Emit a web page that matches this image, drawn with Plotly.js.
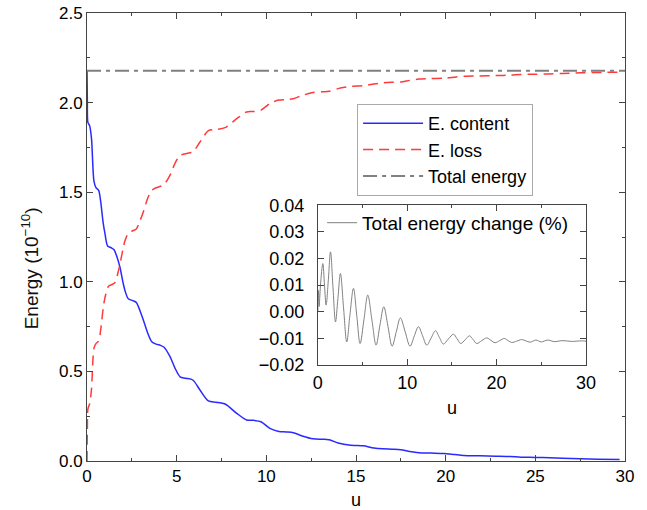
<!DOCTYPE html>
<html>
<head>
<meta charset="utf-8">
<script src="https://cdn.plot.ly/plotly-3.0.1.min.js"></script>
<style>html,body{margin:0;padding:0;background:#fff;}#chart{width:647px;height:510px;}</style>
</head>
<body>
<div id="chart"></div>
<script>
// Main panel: energy content (blue)
const contentU = [0,0.02,0.05,0.15,0.25,0.39,0.5,0.65,0.76,0.9,1.0,1.15,1.35,1.5,1.7,1.84,2.0,2.12,2.3,2.55,2.75,2.95,3.14,3.4,3.61,3.85,4.1,4.3,4.63,4.9,5.19,5.5,5.9,6.3,6.77,7.2,7.7,8.35,8.9,9.3,9.7,10.2,10.7,11.1,11.5,12.0,12.6,13.1,13.5,14.0,14.7,15.0,15.4,16.0,16.5,17.0,17.5,18.0,18.5,19.2,19.9,20.5,21.0,21.9,22.8,23.6,24.2,25.0,25.8,26.5,27.5,28.5,29.7];
const contentE = [2.18,2.0,1.89,1.87,1.80,1.56,1.525,1.51,1.45,1.33,1.27,1.20,1.19,1.18,1.13,1.08,1.0,0.95,0.905,0.895,0.885,0.84,0.787,0.71,0.666,0.652,0.645,0.635,0.582,0.52,0.47,0.462,0.452,0.396,0.335,0.328,0.318,0.266,0.229,0.227,0.219,0.182,0.165,0.162,0.158,0.14,0.124,0.121,0.119,0.10,0.088,0.087,0.085,0.073,0.068,0.066,0.063,0.053,0.046,0.044,0.042,0.036,0.031,0.029,0.027,0.025,0.021,0.020,0.018,0.015,0.012,0.010,0.008];

// Main panel: energy loss (red dashed)
const lossU = [0,0.02,0.05,0.15,0.25,0.39,0.5,0.65,0.76,0.9,1.0,1.2,1.4,1.55,1.7,1.84,2.0,2.12,2.3,2.55,2.75,2.95,3.14,3.4,3.61,3.85,4.1,4.3,4.63,4.9,5.19,5.5,5.9,6.3,6.77,7.2,7.7,8.35,8.9,9.3,9.7,10.2,10.7,11.1,11.5,12.0,12.6,13.1,13.5,14.0,14.7,15.0,15.4,16.0,16.5,17.0,17.5,18.0,18.5,19.2,19.9,20.5,21.0,21.9,22.8,23.6,24.2,25.0,25.8,26.5,27.5,28.5,29.7];
const lossE = [0,0.18,0.29,0.32,0.40,0.63,0.655,0.67,0.73,0.85,0.91,0.975,0.985,0.995,1.04,1.10,1.18,1.23,1.27,1.285,1.295,1.34,1.39,1.47,1.51,1.525,1.533,1.543,1.595,1.66,1.705,1.715,1.725,1.78,1.843,1.85,1.86,1.91,1.948,1.95,1.958,1.995,2.014,2.017,2.022,2.04,2.056,2.06,2.063,2.078,2.09,2.092,2.095,2.104,2.11,2.113,2.115,2.124,2.131,2.134,2.136,2.142,2.147,2.149,2.151,2.153,2.157,2.158,2.16,2.163,2.166,2.168,2.17];

// Main panel: total energy (grey dash-dot)
const totalU = [0, 30];
const totalE = [2.178, 2.178];

// Inset: total energy change (%)
const changeU = [0,0.08,0.15,0.3,0.56,0.75,0.93,1.18,1.42,1.7,1.98,2.25,2.53,2.88,3.24,3.6,3.99,4.36,4.73,5.16,5.59,6.05,6.52,6.95,7.38,7.85,8.31,8.78,9.24,9.78,10.32,10.8,11.26,11.72,12.19,12.68,13.16,13.6,14.05,14.6,15.17,15.58,15.99,16.48,16.96,17.37,17.78,18.34,18.9,19.36,19.83,20.35,20.87,21.28,21.69,22.25,22.8,23.27,23.74,24.4,25.0,25.7,26.5,27.3,28.4,29.5,30];
const changeP = [0.000,0.008,0.002,0.010,0.0181,0.010,0.0025,0.012,0.0225,0.009,-0.0038,0.005,0.0144,0.0015,-0.0113,-0.001,0.0088,-0.0015,-0.0119,-0.003,0.0063,-0.003,-0.0125,-0.005,0.0019,-0.0055,-0.0129,-0.0075,-0.0023,-0.0076,-0.0129,-0.009,-0.0056,-0.009,-0.0125,-0.0098,-0.0071,-0.0096,-0.0121,-0.0102,-0.0084,-0.0101,-0.0119,-0.0105,-0.009,-0.0104,-0.0119,-0.0108,-0.0098,-0.0107,-0.0116,-0.0108,-0.0100,-0.0108,-0.0115,-0.0110,-0.0104,-0.0109,-0.0114,-0.0106,-0.0113,-0.0106,-0.0112,-0.0108,-0.0111,-0.0109,-0.0110];

const yTitle = 'Energy (10<sup>\u221210</sup>)';

const FONT = "Liberation Sans, Arial, Helvetica, sans-serif";
const AX = '#444';

const traces = [
  {x: contentU, y: contentE, type: 'scatter', mode: 'lines', name: 'E. content',
   line: {color: '#2a2aff', width: 1.5, shape: 'spline', smoothing: 0.8}, xaxis: 'x', yaxis: 'y', legend: 'legend'},
  {x: lossU, y: lossE, type: 'scatter', mode: 'lines', name: 'E. loss',
   line: {color: '#ff3a3a', width: 1.5, dash: '10px,6px', shape: 'spline', smoothing: 0.8}, xaxis: 'x', yaxis: 'y', legend: 'legend'},
  {x: totalU, y: totalE, type: 'scatter', mode: 'lines', name: 'Total energy',
   line: {color: '#808080', width: 2, dash: '14px,5px,4px,5px'}, xaxis: 'x', yaxis: 'y', legend: 'legend'},
  {x: changeU, y: changeP, type: 'scatter', mode: 'lines', name: 'Total energy change (%)',
   line: {color: '#808080', width: 1, shape: 'spline', smoothing: 1}, xaxis: 'x2', yaxis: 'y2', legend: 'legend2'}
];

function axisBase(extra) {
  return Object.assign({
    showline: true, linecolor: AX, linewidth: 1, mirror: 'ticks',
    ticks: 'inside', ticklen: 6, tickcolor: AX, tickwidth: 1,
    showgrid: false, zeroline: false,
    tickfont: {family: FONT, size: 17, color: '#000'}
  }, extra);
}

const layout = {
  width: 647, height: 510,
  margin: {l: 87, r: 22, t: 13, b: 49},
  paper_bgcolor: '#fff', plot_bgcolor: 'rgba(0,0,0,0)',
  font: {family: FONT, color: '#000'},
  xaxis: axisBase({range: [0, 30], dtick: 5, tick0: 0,
    minor: {dtick: 2.5, ticklen: 3, ticks: 'inside', tickcolor: AX},
    title: {text: 'u', font: {family: FONT, size: 18}, standoff: 8}}),
  yaxis: axisBase({range: [0, 2.5], dtick: 0.5, tick0: 0, tickformat: '.1f',
    minor: {dtick: 0.25, ticklen: 3, ticks: 'inside', tickcolor: AX}}),
  xaxis2: axisBase({domain: [0.429, 0.9275], anchor: 'y2', range: [0, 30], dtick: 10, tick0: 0,
    minor: {dtick: 5, ticklen: 3, ticks: 'inside', tickcolor: AX},
    tickfont: {family: FONT, size: 18, color: '#000'}, ticklabelstandoff: 1,
    title: {text: 'u', font: {family: FONT, size: 18}, standoff: 9}}),
  yaxis2: axisBase({domain: [0.214, 0.571], anchor: 'x2', range: [-0.02, 0.04], dtick: 0.01, tick0: 0,
    tickformat: '.2f', ticklabelstandoff: 9, tickfont: {family: FONT, size: 18, color: '#000'}}),
  annotations: [
    {text: yTitle, xref: 'paper', yref: 'paper', x: -0.106, y: 0.43,
     xanchor: 'center', yanchor: 'middle', textangle: -90, showarrow: false,
     font: {family: FONT, size: 19, color: '#111'}}
  ],
  legend: {x: 0.502, y: 0.797, xanchor: 'left', yanchor: 'top',
    bgcolor: '#fff', bordercolor: '#aaa', borderwidth: 1, itemwidth: 60,
    font: {family: FONT, size: 18, color: '#000'}, tracegroupgap: 0},
  legend2: {x: 0.437, y: 0.574, xanchor: 'left', yanchor: 'top',
    bgcolor: 'rgba(0,0,0,0)', borderwidth: 0, itemwidth: 30,
    font: {family: FONT, size: 19, color: '#000'}},
  showlegend: true
};

Plotly.newPlot('chart', traces, layout, {displayModeBar: false, staticPlot: true});
</script>
</body>
</html>
